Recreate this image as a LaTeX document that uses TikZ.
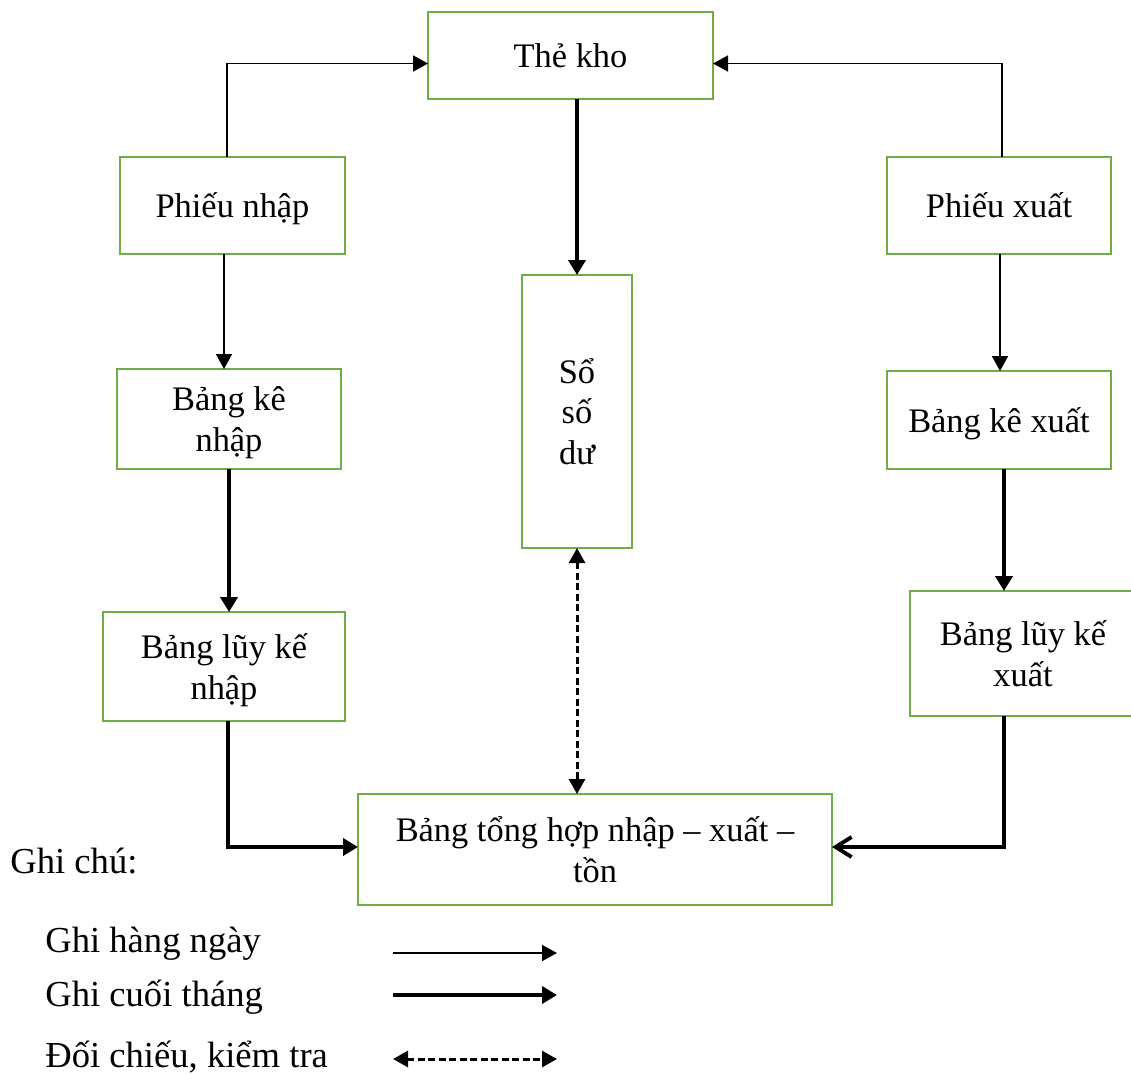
\documentclass[tikz,border=0pt]{standalone}
\usepackage{fontspec}
\setmainfont{Liberation Serif}
\usetikzlibrary{arrows.meta,calc}
\definecolor{boxgreen}{HTML}{70AD47}
\begin{document}
\begin{tikzpicture}[x=0.5pt,y=-0.5pt,
  box/.style={draw=boxgreen,line width=1.15pt,rectangle,inner sep=0pt,outer sep=0pt,
    align=center,text depth=0pt,font=\fontsize{17.2}{20.2}\selectfont},
  thinarr/.style={line width=0.85pt,-{Triangle[length=7.5pt,width=8pt]}},
  thickarr/.style={line width=1.9pt,-{Triangle[length=7.5pt,width=8.5pt]}},
  barbarr/.style={line width=1.9pt,-{Straight Barb[length=8pt,width=10pt]}},
  dasharr/.style={line width=1.5pt,dash pattern=on 3.5pt off 1.75pt,{Triangle[length=7.5pt,width=8pt]}-{Triangle[length=7.5pt,width=8pt]}},
  legtext/.style={anchor=base west,inner sep=0pt,font=\fontsize{18.3}{22}\selectfont}]
\useasboundingbox (0,0) rectangle (1131,1073);
\clip (0,0) rectangle (1131,1073);
% boxes
\node[box,minimum width=142.5pt,minimum height=43.5pt] (the) at (570.5,55.5) {Thẻ kho};
\node[box,minimum width=112.5pt,minimum height=48.5pt] (pn) at (232.5,205.5) {Phiếu nhập};
\node[box,minimum width=112pt,minimum height=48.5pt] (px) at (999,205.5) {Phiếu xuất};
\node[box,minimum width=112pt,minimum height=50pt] (bkn) at (229,419) {Bảng kê\\nhập};
\node[box,minimum width=55pt,minimum height=136.5pt] (sso) at (577,411.5) {Sổ\\số\\dư};
\node[box,minimum width=112pt,minimum height=49pt] (bkx) at (999,420) {Bảng kê xuất};
\node[box,minimum width=121pt,minimum height=54.5pt] (lkn) at (224,666.5) {Bảng lũy kế\\nhập};
\node[box,minimum width=113pt,minimum height=62.5pt] (lkx) at (1023,653.5) {Bảng lũy kế\\xuất};
\node[box,minimum width=237pt,minimum height=55.5pt] (th) at (595,849.5) {Bảng tổng hợp nhập – xuất –\\tồn};
% connectors
\draw[thinarr] ($(pn.north)+(-5.5,0)$) |- ($(the.west)+(0,8)$);
\draw[thinarr] ($(px.north)+(3,0)$) |- ($(the.east)+(0,8)$);
\draw[thickarr] (sso.north |- the.south) -- (sso.north);
\coordinate (pnb) at ($(pn.south)+(-8.5,0)$);
\draw[thinarr] (pnb) -- (pnb |- bkn.north);
\draw[thickarr] (bkn.south) -- (bkn.south |- lkn.north);
\coordinate (pxb) at ($(px.south)+(1,0)$);
\draw[thinarr] (pxb) -- (pxb |- bkx.north);
\coordinate (bkxb) at ($(bkx.south)+(5,0)$);
\draw[thickarr] (bkxb) -- (bkxb |- lkx.north);
\draw[thickarr] ($(lkn.south)+(4,0)$) |- ($(th.west)+(0,-2.5)$);
\draw[barbarr] ($(lkx.south)+(-19,0)$) |- ($(th.east)+(0,-2.5)$);
\draw[dasharr] (sso.south) -- (sso.south |- th.north);
% legend
\node[legtext] (gc) at (10,873) {Ghi chú:};
\node[legtext] (l1) at (45,952) {Ghi hàng ngày};
\node[legtext] (l2) at (45,1006) {Ghi cuối tháng};
\node[legtext] (l3) at (45,1067) {Đối chiếu, kiểm tra};
\coordinate (a1s) at (393,953); \coordinate (a1e) at (557,953);
\coordinate (a2s) at (393,995); \coordinate (a2e) at (557,995);
\coordinate (a3s) at (393,1059); \coordinate (a3e) at (557,1059);
\draw[thinarr] (a1s) -- (a1e);
\draw[thickarr] (a2s) -- (a2e);
\draw[dasharr] (a3s) -- (a3e);
\end{tikzpicture}
\end{document}
